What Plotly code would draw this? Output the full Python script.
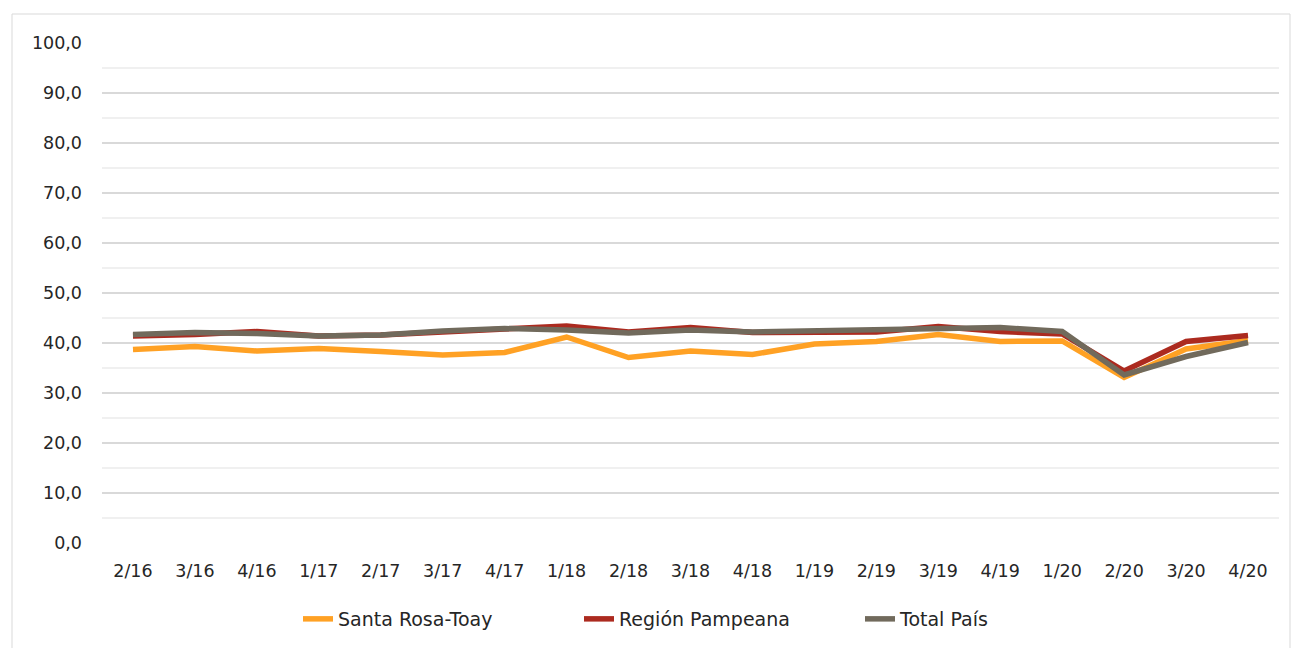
import plotly.graph_objects as go

categories = ["2/16", "3/16", "4/16", "1/17", "2/17", "3/17", "4/17", "1/18", "2/18", "3/18",
              "4/18", "1/19", "2/19", "3/19", "4/19", "1/20", "2/20", "3/20", "4/20"]
santa_rosa = [38.7, 39.3, 38.4, 38.9, 38.3, 37.6, 38.1, 41.2, 37.1, 38.4,
              37.7, 39.8, 40.3, 41.7, 40.3, 40.4, 33.1, 38.8, 40.5]
region_pampeana = [41.4, 41.7, 42.3, 41.4, 41.6, 42.2, 42.9, 43.4, 42.2, 43.1,
                   42.1, 42.1, 42.2, 43.3, 42.3, 41.8, 34.4, 40.3, 41.5]
total_pais = [41.7, 42.1, 41.9, 41.4, 41.6, 42.4, 42.9, 42.6, 42.0, 42.6,
              42.2, 42.4, 42.6, 42.7, 43.1, 42.3, 33.6, 37.3, 40.1]

series = [
    ("Santa Rosa-Toay", santa_rosa, "#FFA124"),
    ("Región Pampeana", region_pampeana, "#AC2A1F"),
    ("Total País", total_pais, "#716A5C"),
]

font_family = "'DejaVu Sans', sans-serif"

fig = go.Figure()
for name, vals, color in series:
    fig.add_trace(go.Scatter(
        x=categories, y=vals, name=name, mode="lines",
        line=dict(color=color, width=5.5),
    ))

fig.update_layout(
    width=1292, height=648,
    margin=dict(l=102, r=13, t=43, b=105, autoexpand=False),
    paper_bgcolor="white", plot_bgcolor="white",
    separators=",.",
    font=dict(family=font_family, size=17, color="#262626"),
    showlegend=True,
    legend=dict(orientation="h", x=(298 - 102) / 1177, xanchor="left", y=-0.152, yanchor="middle",
                font=dict(size=19), entrywidth=236, entrywidthmode="pixels",
                traceorder="normal", bgcolor="rgba(0,0,0,0)"),
    xaxis=dict(type="category", range=[-0.5, len(categories) - 0.5], automargin=False,
               showgrid=False, showline=False, zeroline=False,
               ticks="", ticklabelstandoff=15, tickfont=dict(size=17.5)),
    yaxis=dict(range=[0, 100], dtick=10, tick0=0, tickformat=".1f", automargin=False,
               showgrid=True, gridcolor="#D9D9D9", gridwidth=1.5,
               zeroline=False, showline=False, ticks="", ticklabelstandoff=19,
               minor=dict(dtick=5, tick0=0, showgrid=True, gridcolor="#F0F0F0", gridwidth=1.5),
               tickfont=dict(size=17.5)),
    shapes=[dict(type="rect", xref="paper", yref="paper",
                 x0=(12 - 102) / 1177, x1=(1290 - 102) / 1177,
                 y0=(543 - 660) / 500, y1=(543 - 14) / 500,
                 line=dict(color="#D9D9D9", width=1), fillcolor="rgba(0,0,0,0)", layer="below")],
)

fig.write_html("out.html", config={"displayModeBar": False},
               post_script="document.body.style.margin='0';document.body.style.padding='0';")
